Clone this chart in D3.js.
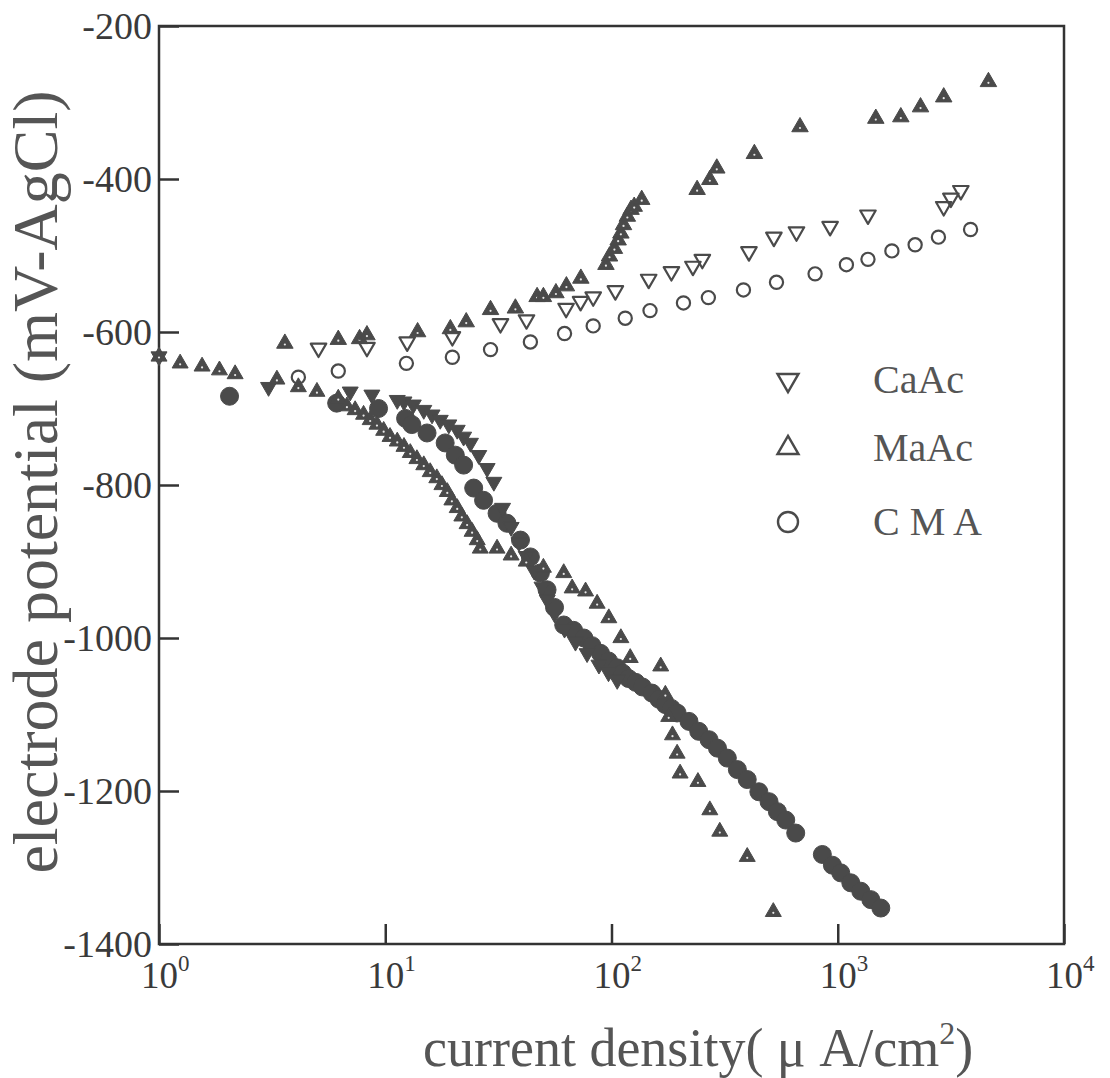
<!DOCTYPE html>
<html>
<head>
<meta charset="utf-8">
<script src="https://cdn.jsdelivr.net/npm/d3@7"></script>
<style>
  body { margin: 0; background: #fff; }
  text { font-family: "Liberation Serif", "Times New Roman", serif; }
</style>
</head>
<body>
<svg id="chart" width="1110" height="1078"></svg>
<script>
// current density (uA/cm2), potential (mV vs AgCl)
const caacAnodic = [[5.07,-621],[8.3,-620],[12.5,-613],[19.8,-606],[32.3,-589],[42.1,-584],[63,-569],[73,-560],[83,-554],[104,-546],[146,-531],[184,-521],[229,-514],[252,-505],[405,-495],[522,-476],[657,-469],[925,-462],[1360,-447],[2940,-436],[3162,-425],[3500,-415]];
const maacAnodic = [[3.6,-615],[6.2,-610],[7.7,-609],[8.3,-604],[13.9,-600],[19.4,-596],[22.8,-587],[29.2,-571],[37.6,-569],[46.9,-554],[50,-554],[56.8,-549],[63.2,-540],[73.2,-530],[94.5,-512],[98,-501],[103,-491],[107,-480],[110,-471],[113,-460],[117.5,-449],[122,-440],[126,-436],[136,-427],[239,-414],[272,-401],[292,-386],[428,-367],[681,-332],[1473,-321],[1900,-319],[2322,-306],[2940,-293],[4634,-273]];
const cmaAnodic = [[4.13,-659],[6.2,-651],[12.4,-641],[19.8,-633],[29.2,-623],[43.8,-613],[62,-602],[83,-592],[115,-582],[148,-572],[208,-562],[268,-555],[383,-545],[536,-535],[794,-524],[1092,-512],[1360,-505],[1735,-494],[2198,-486],[2786,-476],[3864,-466]];

const caacCathodic = [[1.0,-632],[3.05,-672],[7.0,-678],[8.73,-682],[11.3,-689],[12.1,-691],[13.3,-695],[14.8,-702],[16.1,-708],[17.5,-715],[19.1,-721],[20.8,-728],[22.2,-737],[23.8,-745],[25.9,-761],[28.2,-778],[30.2,-796],[33,-830],[36,-855],[39,-875],[42,-893],[45.5,-912],[49.3,-933],[52,-950],[56,-968],[62,-988],[69.3,-1005],[78,-1020],[88,-1035],[97,-1045],[106,-1055]];
const maacCathodic = [[1.0,-632],[1.24,-641],[1.55,-645],[1.85,-650],[2.17,-655],[3.32,-662],[4.13,-672],[4.99,-678],[6.2,-687],[6.77,-697],[7.36,-702],[8.02,-708],[8.58,-715],[9.19,-721],[9.84,-729],[10.5,-737],[11.3,-743],[12.1,-750],[12.9,-758],[13.8,-766],[14.8,-774],[15.8,-783],[16.9,-791],[17.8,-800],[18.8,-809],[19.7,-820],[20.8,-830],[21.8,-841],[23.0,-851],[24.2,-861],[25.5,-872],[26.3,-883],[31.2,-883],[36,-892],[42,-900],[50,-908],[61.5,-915],[67,-935],[76.8,-939],[86.4,-955],[97.3,-974],[110,-1000],[121,-1026],[165,-1037],[173,-1074],[179,-1103],[186,-1127],[195,-1151],[201,-1177],[241,-1188],[272,-1225],[301,-1253],[398,-1286],[519,-1358]];
const cmaCathodic = [[2.05,-684],[6.1,-693],[9.34,-700],[12.3,-713],[13.1,-721],[15.3,-732],[18.4,-745],[20.4,-761],[22.2,-774],[24.6,-804],[27.2,-820],[31.2,-837],[34.5,-850],[39.6,-872],[43.8,-894],[48.5,-915],[51.9,-937],[56,-960],[61.5,-983],[68,-990],[75.5,-1000],[82,-1010],[89.4,-1020],[97,-1030],[106,-1039],[112,-1046],[119,-1053],[128,-1058],[137,-1064],[151,-1072],[162,-1080],[173,-1087],[184,-1092],[195,-1098],[220,-1109],[243,-1122],[270,-1133],[294,-1144],[325,-1157],[360,-1172],[398,-1185],[448,-1201],[497,-1214],[541,-1227],[589,-1238],[652,-1255],[855,-1283],[947,-1297],[1031,-1307],[1142,-1320],[1264,-1331],[1400,-1342],[1550,-1353]];

const xTicks = [1, 10, 100, 1000, 10000];
const yTicks = [-200, -400, -600, -800, -1000, -1200, -1400];
const legendNames = ["CaAc", "MaAc", "C M A"];

const ink = "#4a4a4a";
const svg = d3.select("#chart");

const x = d3.scaleLog().domain([1, 1e4]).range([159, 1064]);
const y = d3.scaleLinear().domain([-1400, -200]).range([944, 26]);

const triPath = side => d3.symbol().type(d3.symbolTriangle).size(Math.sqrt(3) / 4 * side * side)();

// axes (ticks point inward)
svg.append("g")
  .attr("transform", `translate(0,${y(-1400)})`)
  .call(d3.axisBottom(x).tickValues(xTicks).tickSizeInner(-20).tickSizeOuter(0).tickFormat(""))
  .call(g => g.select(".domain").remove())
  .call(g => g.selectAll(".tick line").attr("stroke", "#333").attr("stroke-width", 2.5));

svg.append("g")
  .attr("transform", `translate(${x(1)},0)`)
  .call(d3.axisLeft(y).tickValues(yTicks).tickSizeInner(-20).tickSizeOuter(0).tickPadding(7).tickFormat(d => d))
  .call(g => g.select(".domain").remove())
  .call(g => g.selectAll(".tick line").attr("stroke", "#333").attr("stroke-width", 2.5))
  .call(g => g.selectAll(".tick text")
    .attr("font-family", "Liberation Serif")
    .attr("font-size", 38)
    .attr("fill", "#3a3a3a"));

// frame
svg.append("rect")
  .attr("x", x(1)).attr("y", y(-200))
  .attr("width", x(1e4) - x(1)).attr("height", y(-1400) - y(-200))
  .attr("fill", "none").attr("stroke", "#333").attr("stroke-width", 2.5);

// x tick labels 10^n
const xl = svg.append("g").selectAll("text").data(xTicks).join("text")
  .attr("x", d => x(d) - 18)
  .attr("y", 988)
  .attr("font-size", 37)
  .attr("fill", "#3a3a3a");
xl.append("tspan").text("10");
xl.append("tspan").attr("dy", -17).attr("font-size", 23).text(d => Math.round(Math.log10(d)));

// markers
function triangles(data, side, down, filled) {
  const g = svg.append("g").selectAll("g").data(data).join("g")
    .attr("transform", d => `translate(${x(d[0])},${y(d[1])})`);
  g.append("path")
    .attr("d", triPath(side))
    .attr("transform", down ? "rotate(180)" : null)
    .attr("fill", filled ? ink : "none")
    .attr("stroke", ink)
    .attr("stroke-width", filled ? 1 : 2.2)
    .attr("stroke-linejoin", "round");
  if (filled && !down) g.append("circle").attr("cy", 1).attr("r", 1.1).attr("fill", "#e8e8e8");
}

function circles(data, r, filled) {
  svg.append("g").selectAll("circle").data(data).join("circle")
    .attr("cx", d => x(d[0]))
    .attr("cy", d => y(d[1]))
    .attr("r", r)
    .attr("fill", filled ? ink : "none")
    .attr("stroke", ink)
    .attr("stroke-width", filled ? 1 : 2.2);
}

circles(cmaCathodic, 9, true);
triangles(caacCathodic, 16, true, true);
triangles(maacCathodic, 16, false, true);

circles(cmaAnodic, 6.6, false);
triangles(caacAnodic, 15.5, true, false);
triangles(maacAnodic, 16.5, false, true);

// legend
const legY = [380, 448, 522];
const leg = svg.append("g");
leg.append("path").attr("d", triPath(21)).attr("transform", `translate(788,${legY[0]}) rotate(180)`)
  .attr("fill", "none").attr("stroke", ink).attr("stroke-width", 2.4);
leg.append("path").attr("d", triPath(21)).attr("transform", `translate(788,${legY[1]})`)
  .attr("fill", "none").attr("stroke", ink).attr("stroke-width", 2.4);
leg.append("circle").attr("cx", 788).attr("cy", legY[2]).attr("r", 10)
  .attr("fill", "none").attr("stroke", ink).attr("stroke-width", 2.4);
leg.selectAll("text").data(legendNames).join("text")
  .attr("x", 873)
  .attr("y", (d, i) => legY[i] + 13)
  .attr("font-size", 40)
  .attr("fill", "#555")
  .attr("xml:space", "preserve")
  .text(d => d);

// axis titles
const xt = svg.append("text")
  .attr("x", 423).attr("y", 1066)
  .attr("font-size", 54)
  .attr("fill", "#555");
xt.append("tspan").text("current density( μ A/cm");
xt.append("tspan").attr("dy", -22).attr("font-size", 32).text("2");
xt.append("tspan").attr("dy", 22).text(")");

svg.append("text")
  .attr("transform", "translate(57,482) rotate(-90)")
  .attr("text-anchor", "middle")
  .attr("font-size", 64)
  .attr("fill", "#555")
  .text("electrode potential (mV-AgCl)");
</script>
</body>
</html>
